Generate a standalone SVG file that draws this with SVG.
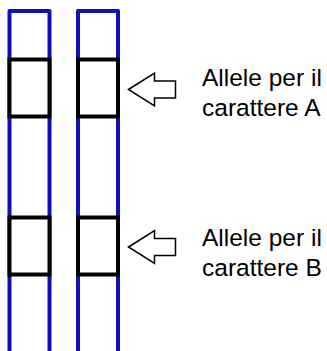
<svg xmlns="http://www.w3.org/2000/svg" width="327" height="351" viewBox="0 0 327 351">
<style>
.chrom{fill:#fff;stroke:#1212b4;stroke-width:4;stroke-linejoin:round}
.box{fill:#fff;stroke:#000;stroke-width:4}
.arrow{fill:#fff;stroke:#000;stroke-width:1.5;stroke-linejoin:miter}
.lbl{font-family:"Liberation Sans",Arial,sans-serif;font-size:24.5px;fill:#000}
</style>
<defs>
<path id="arr" d="M0,0 L26,-16.5 L26,-8.5 L47,-8.5 L47,8.5 L26,8.5 L26,16.5 Z"/>
</defs>
<rect width="327" height="351" fill="#fff"/>
<g id="chromosome1">
<path class="chrom" d="M9.5,360 V11 H49.5 V360"/>
</g>
<g id="chromosome2">
<path class="chrom" d="M78,360 V11 H118 V360"/>
</g>
<g id="alleleA1"><rect class="box" x="9.5" y="59.5" width="40" height="57"/></g>
<g id="alleleA2"><rect class="box" x="78" y="59.5" width="40" height="57"/></g>
<g id="alleleB1"><rect class="box" x="9.5" y="217.5" width="40" height="57"/></g>
<g id="alleleB2"><rect class="box" x="78" y="217.5" width="40" height="57"/></g>
<g id="connectors">
<use href="#arr" class="arrow" transform="translate(128.5,89.5)"/>
<use href="#arr" class="arrow" transform="translate(128.5,247)"/>
</g>
<g id="labelA">
<text class="lbl" x="202" y="86">Allele per il</text>
<text class="lbl" x="202" y="115.5">carattere A</text>
</g>
<g id="labelB">
<text class="lbl" x="202" y="246">Allele per il</text>
<text class="lbl" x="202" y="275.5">carattere B</text>
</g>
</svg>
